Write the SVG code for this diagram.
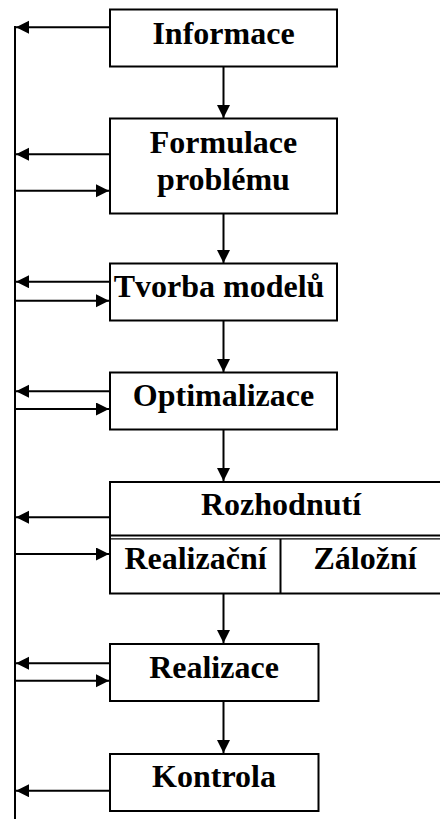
<svg xmlns="http://www.w3.org/2000/svg" width="440" height="819" viewBox="0 0 440 819">
<style>
.box{fill:#fff;stroke:#000;stroke-width:2}
.c{fill:none;stroke:#000;stroke-width:2}
.t{font-family:"Liberation Serif","Times New Roman",serif;font-weight:bold;font-size:32px;fill:#000;text-anchor:middle}
</style>
<defs>
<marker id="ah" markerUnits="userSpaceOnUse" markerWidth="14" markerHeight="14" refX="13" refY="6.5" orient="auto">
<path d="M0,0 L13,6.5 L0,13 z" fill="#000"/>
</marker>
</defs>
<rect width="440" height="819" fill="#fff"/>
<g id="connectors">
<line class="c" x1="15" y1="26" x2="15" y2="819"/>
<line class="c" x1="110" y1="27.3" x2="16" y2="27.3" marker-end="url(#ah)"/>
<line class="c" x1="223.5" y1="66" x2="223.5" y2="118" marker-end="url(#ah)"/>
<line class="c" x1="110" y1="154.3" x2="16" y2="154.3" marker-end="url(#ah)"/>
<line class="c" x1="15" y1="190.7" x2="109" y2="190.7" marker-end="url(#ah)"/>
<line class="c" x1="223.5" y1="213" x2="223.5" y2="263" marker-end="url(#ah)"/>
<line class="c" x1="110" y1="281.7" x2="16" y2="281.7" marker-end="url(#ah)"/>
<line class="c" x1="15" y1="300.7" x2="109" y2="300.7" marker-end="url(#ah)"/>
<line class="c" x1="223.5" y1="320" x2="223.5" y2="372" marker-end="url(#ah)"/>
<line class="c" x1="110" y1="391.3" x2="16" y2="391.3" marker-end="url(#ah)"/>
<line class="c" x1="15" y1="409" x2="109" y2="409" marker-end="url(#ah)"/>
<line class="c" x1="223.5" y1="429" x2="223.5" y2="481" marker-end="url(#ah)"/>
<line class="c" x1="110" y1="517.3" x2="16" y2="517.3" marker-end="url(#ah)"/>
<line class="c" x1="15" y1="554" x2="109" y2="554" marker-end="url(#ah)"/>
<line class="c" x1="223.5" y1="593" x2="223.5" y2="643" marker-end="url(#ah)"/>
<line class="c" x1="110" y1="663.3" x2="16" y2="663.3" marker-end="url(#ah)"/>
<line class="c" x1="15" y1="680.7" x2="109" y2="680.7" marker-end="url(#ah)"/>
<line class="c" x1="223.5" y1="701" x2="223.5" y2="753" marker-end="url(#ah)"/>
<line class="c" x1="110" y1="790.7" x2="16" y2="790.7" marker-end="url(#ah)"/>
</g>
<g id="informace">
<rect class="box" x="110" y="9.5" width="227" height="57"/>
<text class="t" x="223.5" y="44.3">Informace</text>
</g>
<g id="formulace">
<rect class="box" x="110" y="118.5" width="227" height="95"/>
<text class="t" x="223.5" y="153.3">Formulace</text>
<text class="t" x="223.5" y="190">problému</text>
</g>
<g id="tvorba">
<rect class="box" x="110" y="263.5" width="227" height="57"/>
<text class="t" x="219" y="297.3">Tvorba modelů</text>
</g>
<g id="optimalizace">
<rect class="box" x="110" y="372.5" width="227" height="57"/>
<text class="t" x="223.5" y="405.7">Optimalizace</text>
</g>
<g id="rozhodnuti">
<rect class="box" x="110" y="482" width="345" height="111.5"/>
<line x1="110" y1="535.6" x2="440" y2="535.6" stroke="#000" stroke-width="2"/>
<line x1="110" y1="538.8" x2="440" y2="538.8" stroke="#000" stroke-width="1.2"/>
<line x1="280.5" y1="539" x2="280.5" y2="593.5" stroke="#000" stroke-width="2"/>
<text class="t" x="281" y="515">Rozhodnutí</text>
<text class="t" x="195.5" y="569.3">Realizační</text>
<text class="t" x="365" y="569.3">Záložní</text>
</g>
<g id="realizace">
<rect class="box" x="110" y="644" width="208.5" height="57"/>
<text class="t" x="214" y="677.7">Realizace</text>
</g>
<g id="kontrola">
<rect class="box" x="110" y="754" width="208.5" height="57"/>
<text class="t" x="214" y="787.3">Kontrola</text>
</g>
</svg>
